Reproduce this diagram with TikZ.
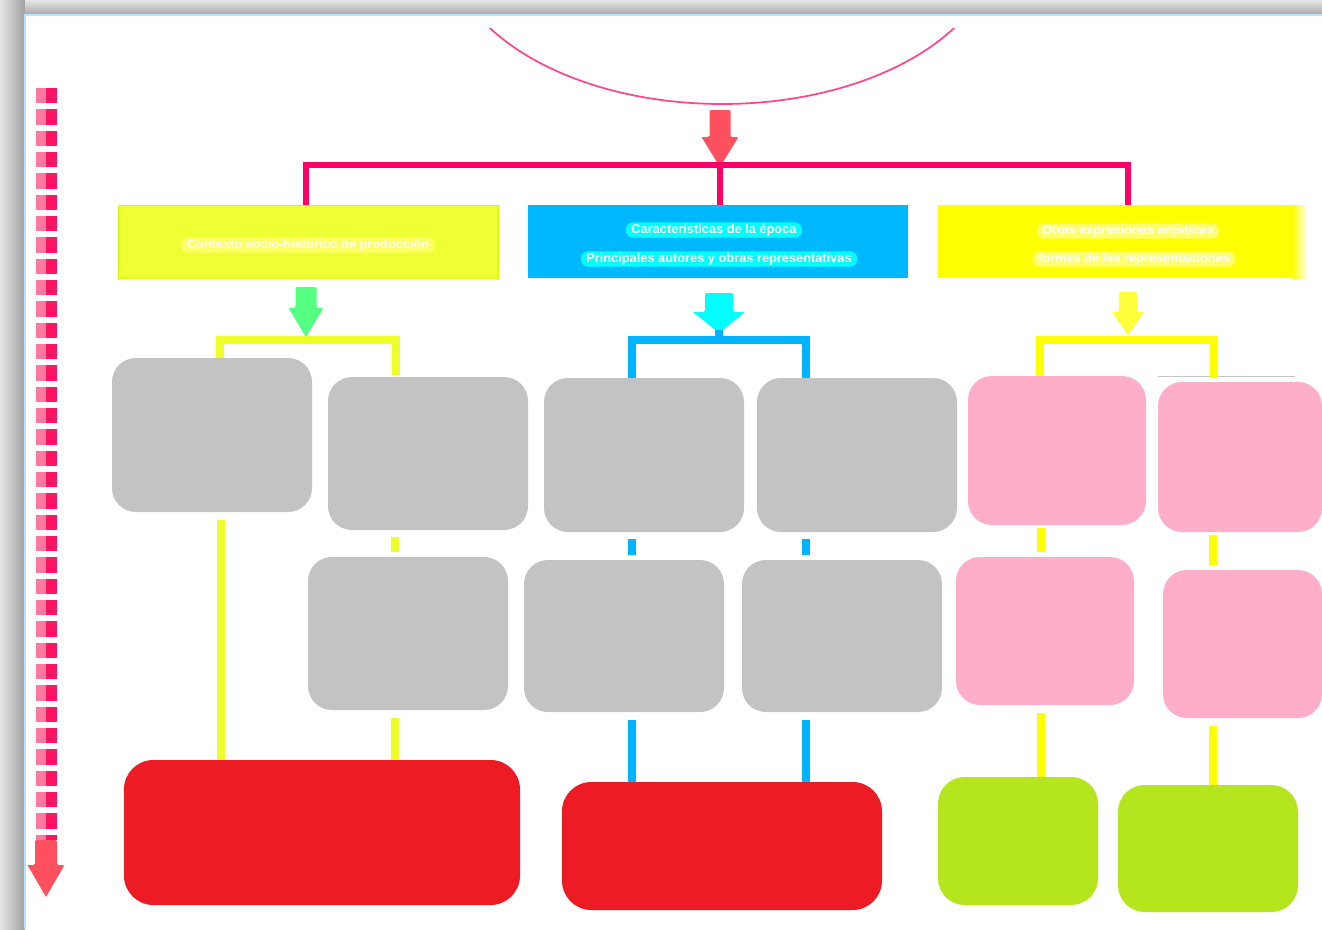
\documentclass[tikz,border=0pt]{standalone}
\usepackage{fontspec}
\setmainfont{Liberation Sans}
\definecolor{pinkbar}{RGB}{255,0,102}
\definecolor{arcpink}{RGB}{255,70,140}
\definecolor{redarrow}{RGB}{255,80,96}
\definecolor{greenarrow}{RGB}{85,255,130}
\definecolor{cyanarrow}{RGB}{0,255,255}
\definecolor{yelarrow}{RGB}{255,255,60}
\definecolor{hdrL}{RGB}{238,255,51}
\definecolor{hdrLedge}{RGB}{205,255,0}
\definecolor{hdrM}{RGB}{0,184,255}
\definecolor{hdrR}{RGB}{255,255,0}
\definecolor{glowL}{RGB}{255,255,100}
\definecolor{glowM}{RGB}{0,255,255}
\definecolor{glowR}{RGB}{255,255,110}
\definecolor{limeline}{RGB}{238,255,40}
\definecolor{blueline}{RGB}{0,180,255}
\definecolor{yelline}{RGB}{255,255,0}
\definecolor{grayfill}{RGB}{195,195,195}
\definecolor{pinkfill}{RGB}{255,174,201}
\definecolor{redfill}{RGB}{237,28,36}
\definecolor{limefill}{RGB}{181,230,29}
\definecolor{dashlight}{RGB}{255,120,160}
\definecolor{dashdark}{RGB}{255,20,100}
\newcommand\blockarw[8]{%
  \coordinate (#1) at (#2,#5);
  \fill[#8, rounded corners=1pt] (#2-#6,#3) -- (#2+#6,#3) -- (#2+#6,#4) -- (#2+#7,#4)
    [sharp corners] -- (#2,#5) -- (#2-#7,#4) [rounded corners=1pt] -- (#2-#6,#4) -- cycle;}
\tikzset{
  panel/.style={inner sep=0pt, outer sep=0pt, rounded corners=18pt},
  graybox/.style={panel, fill=grayfill},
  pinkbox/.style={panel, fill=pinkfill},
  redbox/.style={panel, fill=redfill, rounded corners=22pt},
  limebox/.style={panel, fill=limefill, rounded corners=20pt},
  header/.style={inner sep=0pt, outer sep=0pt, minimum height=54.75pt},
  glow/.style={text=white, font=\bfseries\fontsize{9.6}{11}\selectfont, rounded corners=5pt,
    inner xsep=4pt, inner ysep=1.2pt},
  bar/.style={line width=4.6pt},
  link/.style={line width=5.4pt},
  gapl/.style={shorten <=5.5pt, shorten >=3.5pt},
  gapb/.style={shorten <=6pt},
}
\begin{document}
\begin{tikzpicture}[x=0.75pt, y=-0.75pt]
\useasboundingbox (0,0) rectangle (1322,929);
% frame
\shade[left color=gray!20, right color=gray!75] (0,0) rectangle (25,929);
\shade[top color=gray!20, bottom color=gray!70] (25,0) rectangle (1322,15);
\fill[white] (25,15) rectangle (1322,929);
\draw[cyan!30, line width=1pt] (25,929) -- (25,15) -- (1322,15);
% top arc
\begin{scope}
  \clip (0,28) rectangle (1322,929);
  \draw[arcpink, line width=1.3pt] (722,-60) ellipse [x radius=275, y radius=164];
\end{scope}
% left dashed time arrow
\draw[dashlight, line width=7.6pt, dash pattern=on 11.5pt off 4.5pt] (41.5,88) -- (41.5,840);
\draw[dashdark, line width=7.6pt, dash pattern=on 11.5pt off 4.5pt] (51.5,88) -- (51.5,840);
\blockarw{tl}{46}{840}{865}{897}{11}{18.5}{redarrow}
% headers
\node[header, minimum width=285pt, fill=hdrL, draw=hdrLedge, line width=0.6pt] (H1) at (308,241.5) {};
\node[header, minimum width=285pt, fill=hdrM] (H2) at (718,241.5) {};
\node[header, minimum width=265.5pt, fill=hdrR] (H3) at (1115,241.5) {};
\shade[left color=hdrR, right color=white] (1292,205) rectangle (1308,278);
\node[glow, fill=glowL] (t1) at (308,245) {Contexto socio-histórico de producción};
\node[glow, fill=glowM] (t2a) at (714,230) {Características de la época};
\node[glow, fill=glowM] (t2b) at (719,259) {Principales autores y obras representativas};
\node[glow, fill=glowR] (t3a) at (1128,231) {Otras expresiones artísticas};
\node[glow, fill=glowR] (t3b) at (1134,259) {formas de las representaciones};
% top arrow and pink bracket
\blockarw{ta}{720}{110}{137}{167}{10.5}{18.5}{redarrow}
\coordinate (tj) at (720,165);
\draw[pinkbar, bar] ([xshift=-1.5pt]H1.north) |- (tj) -| ([xshift=9.75pt]H3.north);
\draw[pinkbar, bar] (tj) -- (tj |- H2.north);
% boxes row 1
\node[graybox, minimum width=150pt, minimum height=115.5pt] (A1) at (212,435) {};
\node[graybox, minimum width=150pt, minimum height=114.75pt] (A2) at (428,453.5) {};
\node[graybox, minimum width=150pt, minimum height=115.5pt] (B1) at (644,455) {};
\node[graybox, minimum width=150pt, minimum height=115.5pt] (B2) at (857,455) {};
\node[pinkbox, minimum width=133.5pt, minimum height=111.75pt] (C1) at (1057,450.5) {};
\node[pinkbox, minimum width=123pt, minimum height=112.5pt] (C2) at (1240,457) {};
\draw[gray!45, line width=0.6pt] (1158,376) -- (1295,376);
% row 2
\node[graybox, minimum width=150pt, minimum height=114.75pt] (A2b) at (408,633.5) {};
\node[graybox, minimum width=150pt, minimum height=114pt] (B1b) at (624,636) {};
\node[graybox, minimum width=150pt, minimum height=114pt] (B2b) at (842,636) {};
\node[pinkbox, minimum width=133.5pt, minimum height=111pt] (C1b) at (1045,631) {};
\node[pinkbox, minimum width=119.25pt, minimum height=111pt] (C2b) at (1242.5,644) {};
% row 3
\node[redbox, minimum width=297pt, minimum height=108.75pt] (R1) at (322,832.5) {};
\node[redbox, minimum width=240pt, minimum height=96pt] (R2) at (722,846) {};
\node[limebox, minimum width=120pt, minimum height=96pt] (G1) at (1018,841) {};
\node[limebox, minimum width=135pt, minimum height=95.25pt] (G2) at (1208,848.5) {};
% sub-arrows and brackets
\blockarw{ga}{306}{287}{308}{337}{10.5}{17.5}{greenarrow}
\blockarw{ca}{719}{293}{312}{333}{14}{26}{cyanarrow}
\blockarw{ya}{1128}{292}{312}{335}{9}{16}{yelarrow}
\coordinate (jA) at (308,340);
\coordinate (jB) at (719,340);
\coordinate (jC) at (1128,340);
\draw[limeline, link] ([xshift=6pt]A1.north) |- (jA) -| ([xshift=-24pt,yshift=1.5pt]A2.north);
\draw[blueline, link] ([xshift=-9pt]B1.north) |- (jB) -| ([xshift=-38.25pt]B2.north);
\draw[blueline, link] (jB) -- ++(0,-10);
\draw[yelline, link] ([xshift=-12.75pt]C1.north) |- (jC) -| ([xshift=-19.5pt,yshift=3pt]C2.north);
% vertical links
\draw[limeline, link, gapb] ([xshift=6.75pt]A1.south) -- ([xshift=6.75pt]A1.south |- R1.north);
\draw[limeline, link, gapl] ([xshift=-24.75pt]A2.south) -- ([xshift=-24.75pt]A2.south |- A2b.north);
\draw[limeline, link, gapb] ([xshift=-9.75pt]A2b.south) -- ([xshift=-9.75pt]A2b.south |- R1.north);
\draw[blueline, link, gapl] ([xshift=-9pt]B1.south) -- ([xshift=-9pt]B1.south |- B1b.north);
\draw[blueline, link, gapb] ([xshift=6pt]B1b.south) -- ([xshift=6pt]B1b.south |- R2.north);
\draw[blueline, link, gapl] ([xshift=-38.25pt]B2.south) -- ([xshift=-38.25pt]B2.south |- B2b.north);
\draw[blueline, link, gapb] ([xshift=-27pt]B2b.south) -- ([xshift=-27pt]B2b.south |- R2.north);
\draw[yelline, link, shorten <=2pt, shorten >=3.5pt] ([xshift=-12pt]C1.south) -- ([xshift=-12pt]C1.south |- C1b.north);
\draw[yelline, link, gapb] ([xshift=-3pt]C1b.south) -- ([xshift=-3pt]C1b.south |- G1.north);
\draw[yelline, link, shorten <=2pt, shorten >=3.5pt] ([xshift=-20.25pt]C2.south) -- ([xshift=-20.25pt]C2.south |- C2b.north);
\draw[yelline, link, gapb] ([xshift=-22.125pt]C2b.south) -- ([xshift=-22.125pt]C2b.south |- G2.north);
\end{tikzpicture}
\end{document}
